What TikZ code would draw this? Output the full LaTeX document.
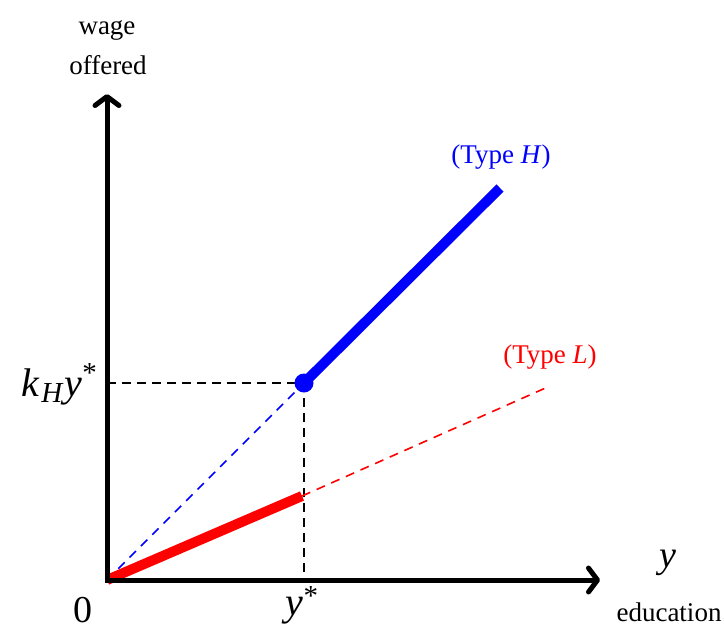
\documentclass[tikz,border=0pt]{standalone}
\usepackage{fontspec}
\setmainfont{Liberation Serif}
\usetikzlibrary{arrows.meta}
\tikzset{
  axis/.style={line width=5pt, -{Straight Barb[length=9pt,width=24pt,line width=5pt,round]}},
  guide/.style={black, line width=2pt, dash pattern=on 9pt off 6pt},
  thinblue/.style={blue, line width=1.6pt, dash pattern=on 9pt off 7pt},
  thinred/.style={red, line width=1.6pt, dash pattern=on 9pt off 7pt},
  small/.style={font=\fontsize{27}{30}\selectfont, inner sep=0pt, anchor=base},
  big/.style={font=\fontsize{38}{42}\selectfont, inner sep=0pt, anchor=base}
}
\newcommand{\bigsz}{\fontsize{40}{44}\selectfont}
\newcommand{\subsz}{\fontsize{29}{32}\selectfont}
\begin{document}
\begin{tikzpicture}[x=1pt,y=-1pt]
\useasboundingbox (0,0) rectangle (724,630);
\coordinate (O) at (107,580);
\coordinate (ytop) at (107,94);
\coordinate (xend) at (600,580);
\coordinate (P) at (304,383);
\coordinate (Hend) at (500,188);
\coordinate (R) at (302,496);
\coordinate (Lend) at (550,386);
\coordinate (Py) at (107,383);
\coordinate (Px) at (304,580);
% guides
\draw[guide] (Py) -- (P);
\draw[guide] (P) -- (Px);
\draw[thinblue] (O) -- (P);
\draw[thinred] (R) -- (Lend);
% thick lines
\draw[red, line width=10pt] (O) -- (R);
\draw[blue, line width=10pt] (P) -- (Hend);
\fill[blue] (P) circle (9.5pt);
% axes
\draw[axis] (O) -- (ytop);
\draw[axis] ([xshift=-2.5pt]O) -- (xend);
% labels
\node[small] (wage) at (107,34) {wage};
\node[small] (off) at (108,74) {offered};
\node[inner sep=0pt, anchor=base east] (kh) at (97,396)
  {\bigsz\textit{k}\kern1pt\raisebox{-6pt}{\subsz\textit{H}}\kern1pt\textit{y}\raisebox{14pt}{\subsz *}};
\node[big] (zero) at (83,622) {0};
\node[inner sep=0pt, anchor=base] (ys) at (302,615) {\bigsz\textit{y}\raisebox{10pt}{\subsz *}};
\node[big] (y) at (668,567) {\textit{y}};
\node[small] (edu) at (669,621) {education};
\node[small, blue] (tH) at (501,163) {(Type \textit{H})};
\node[small, red] (tL) at (550,363) {(Type \textit{L})};
\end{tikzpicture}
\end{document}
